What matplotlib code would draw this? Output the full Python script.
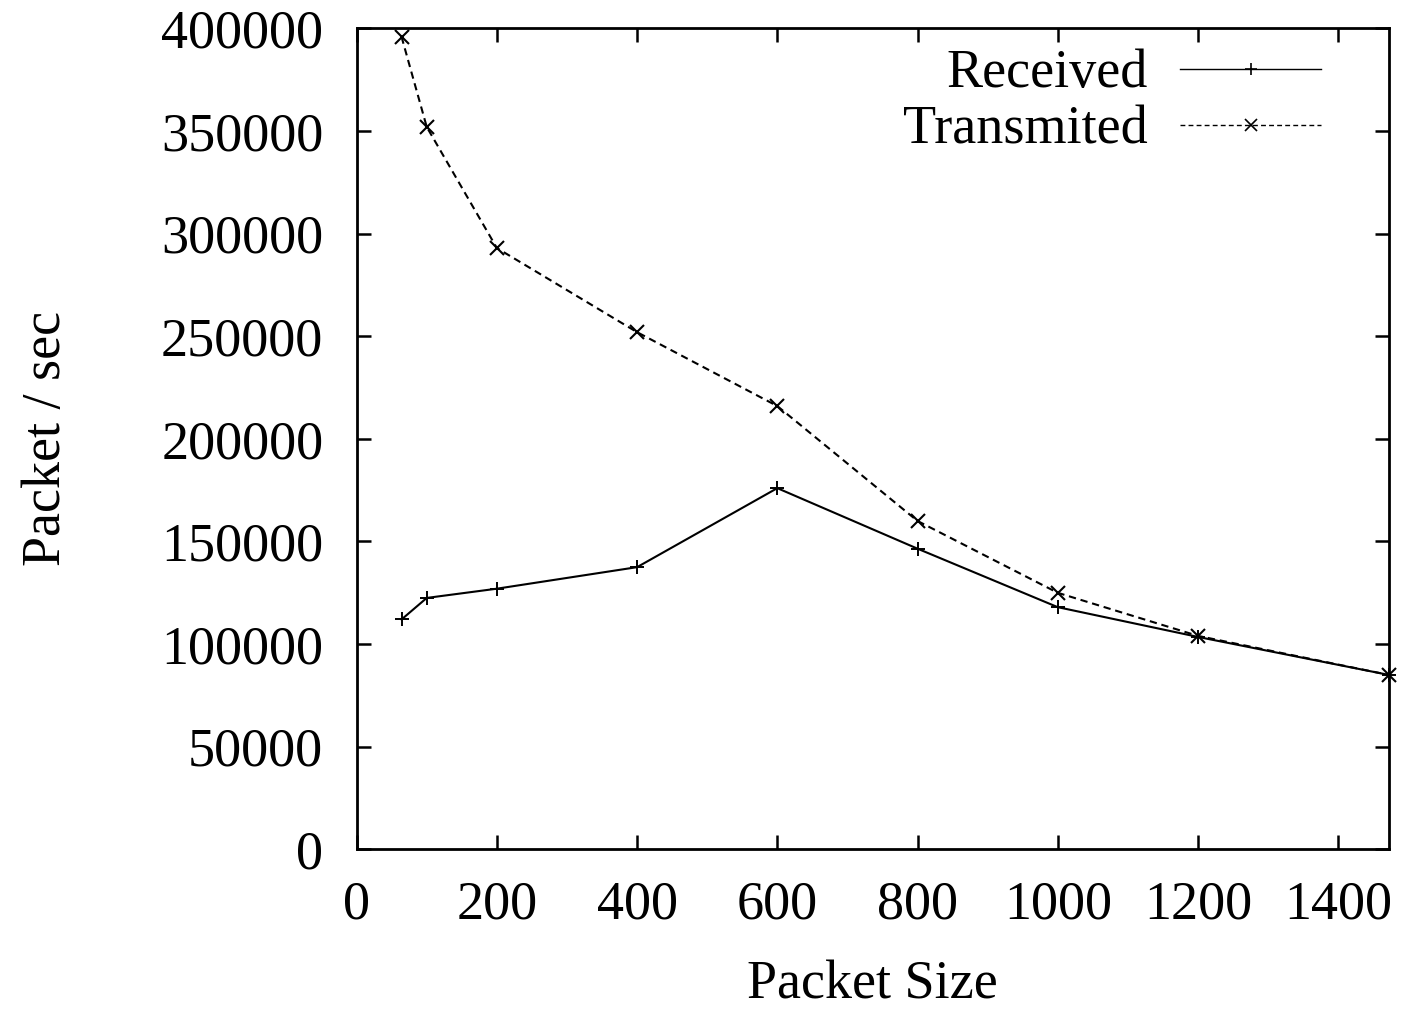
import matplotlib
matplotlib.use("Agg")
import matplotlib.pyplot as plt

packet_size = [64, 100, 200, 400, 600, 800, 1000, 1200, 1472]
received = [112000, 122500, 127000, 137500, 176000, 146500, 118000, 103500, 85000]
transmitted = [396000, 352000, 293000, 252000, 216000, 160000, 125000, 104000, 85000]
xticks = [0, 200, 400, 600, 800, 1000, 1200, 1400]
yticks = [0, 50000, 100000, 150000, 200000, 250000, 300000, 350000, 400000]

plt.rcParams['font.family'] = ['Liberation Serif', 'DejaVu Serif']
FS = 39

fig = plt.figure(figsize=(14.03, 10.10), dpi=100)
ax = fig.add_axes([0.2542, 0.1591, 0.9898 - 0.2542, 0.9718 - 0.1591])

ax.plot(packet_size, received, color='black', lw=1.5, marker='+', ms=10,
        mew=1.4, label='Received', clip_on=False)
ax.plot(packet_size, transmitted, color='black', lw=1.5, ls=(0, (3.5, 2.3)),
        marker='x', ms=10, mew=1.5, label='Transmited', clip_on=False)

ax.set_xlim(0, 1472)
ax.set_ylim(0, 400000)
ax.set_xticks(xticks)
ax.set_yticks(yticks)
ax.set_xticklabels([str(v) for v in xticks], fontsize=FS)
ax.set_yticklabels([str(v) for v in yticks], fontsize=FS)
ax.tick_params(axis='both', direction='in', length=10, width=1.8,
               top=True, right=True)
ax.tick_params(axis='y', pad=24)
ax.tick_params(axis='x', pad=22)
for s in ax.spines.values():
    s.set_linewidth(2.0)

ax.set_xlabel('Packet Size', fontsize=FS, labelpad=21)
ax.set_ylabel('Packet / sec', fontsize=FS, labelpad=64)

leg = ax.legend(loc='upper right', frameon=False, fontsize=FS,
                markerfirst=False, handlelength=2.6, handletextpad=0.6,
                labelspacing=0.11, borderaxespad=0.2,
                bbox_to_anchor=(0.966, 1.0146))
for h in leg.get_lines():
    h.set_linewidth(1.0)
    h.set_markersize(9)
    h.set_markeredgewidth(1.2)

fig.savefig('out.png', dpi=100)
